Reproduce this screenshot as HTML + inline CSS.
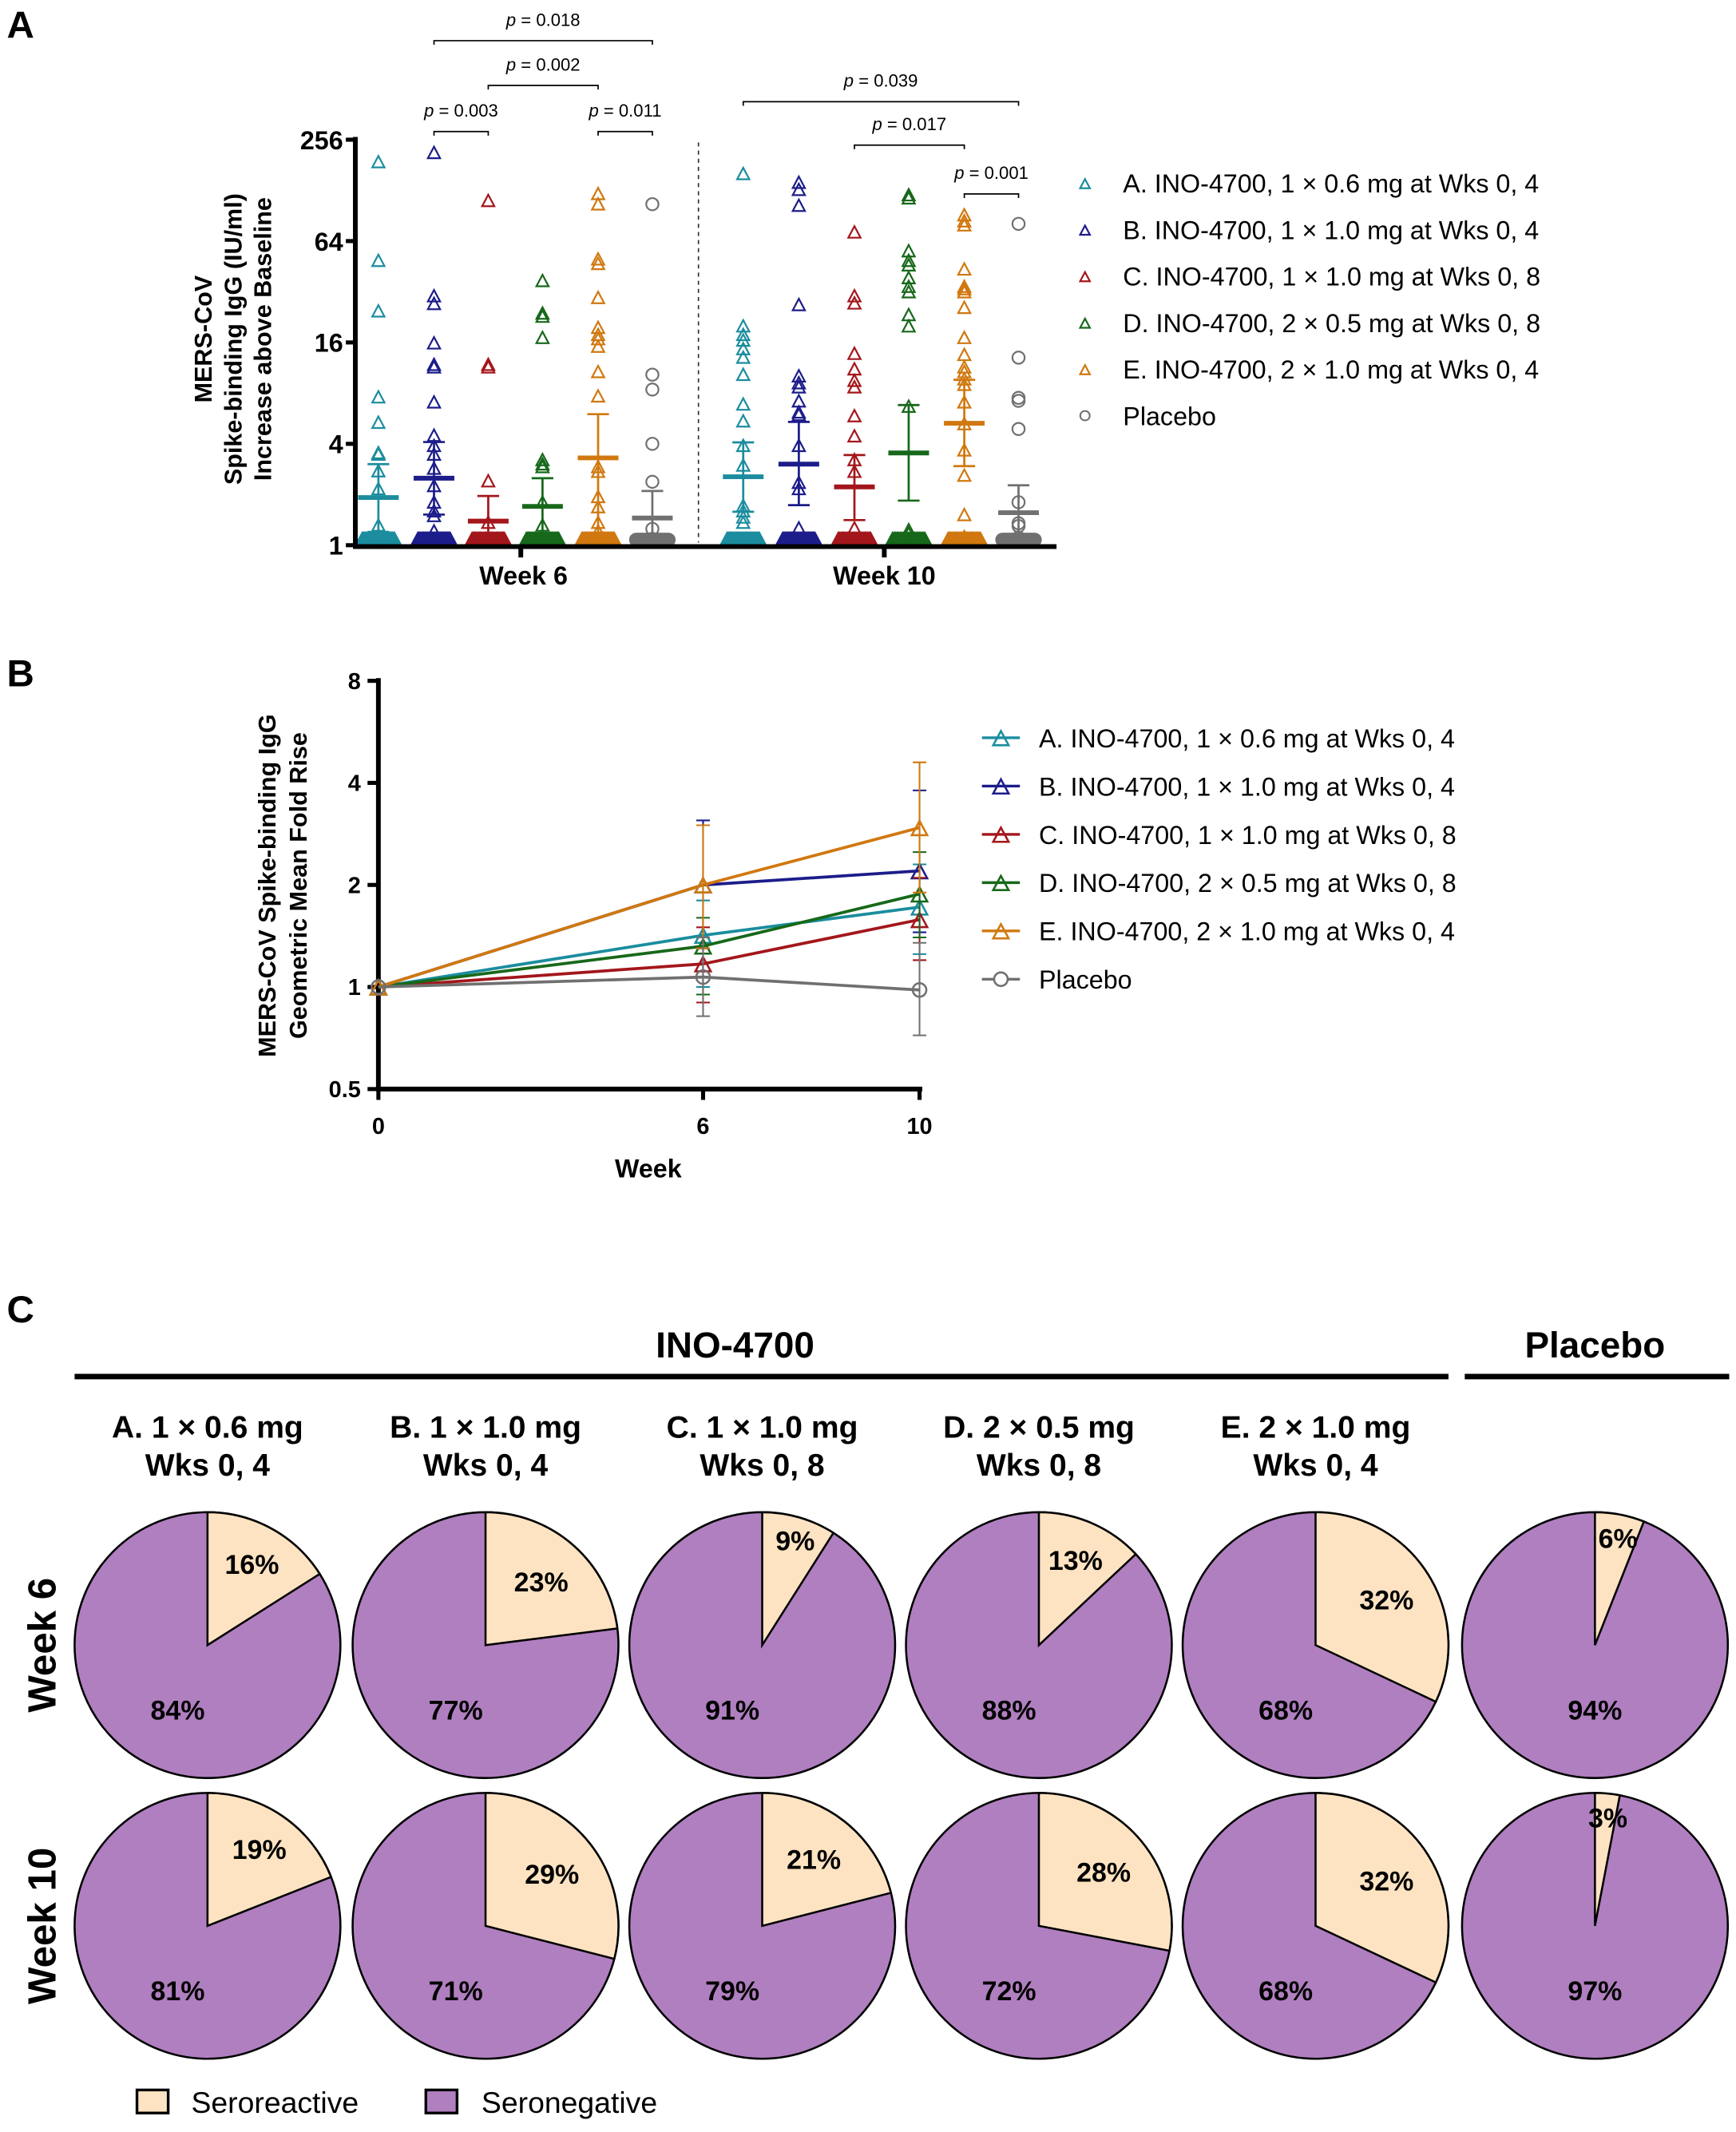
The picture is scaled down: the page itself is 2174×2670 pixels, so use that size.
<!DOCTYPE html>
<html><head><meta charset="utf-8"><style>
html,body{margin:0;padding:0;background:#fff;}
svg{display:block;font-family:"Liberation Sans",Arial,sans-serif;}
</style></head><body>
<svg id="fig" width="2174" height="2670" viewBox="0 0 1280 1572" preserveAspectRatio="none" xmlns="http://www.w3.org/2000/svg">
<g id="panelA"></g>
<g id="panelB"></g>
<g id="panelC"></g>
</svg>
<script>
// ---------- Panel A data ----------
const groupNames = ["A. INO-4700, 1 × 0.6 mg at Wks 0, 4","B. INO-4700, 1 × 1.0 mg at Wks 0, 4","C. INO-4700, 1 × 1.0 mg at Wks 0, 8","D. INO-4700, 2 × 0.5 mg at Wks 0, 8","E. INO-4700, 2 × 1.0 mg at Wks 0, 4","Placebo"];
const colors = ["#1b8d9e","#1c1c8a","#a3161b","#17681a","#d0780f","#707070"];
const w6A=[187,48.5,24.3,7.5,5.3,3.5,3.43,2.73,2.14,1.3];
const w6B=[212,29.9,26.9,15.7,11.7,11.3,7,4.44,3.86,3.43,2.83,2.23,1.78,1.58,1.48,1.2];
const w6C=[110,11.7,11.3,2.38,1.35];
const w6D=[36.8,23.6,22.6,16.9,3.18,3.0,2.89,1.78,1.3];
const w6E=[121,105,49.5,46.5,29.2,19.4,17.6,16.6,15,10.6,7.6,2.89,2.71,1.92,1.67,1.35,1.2];
const w6P=[106,10.3,8.4,4,2.38,1.25,1.09];
const w10A=[159,19.8,17.6,16.3,14.5,12.9,10.2,6.8,5.4,3.86,2.95,1.7,1.58,1.45,1.35];
const w10B=[141,128,103,26.5,10,9.1,8.6,7.1,6.1,5.9,3.86,2.33,2.14,1.25];
const w10C=[71.5,29.9,27.1,13.6,11,9.4,8.6,5.8,4.4,3.18,2.71,1.25];
const w10D=[119,114,55.3,48.5,45.6,38.3,34,31.6,23.1,19.8,6.6,1.22,1.16];
const w10E=[90.5,83.3,78.8,43.1,34,32.9,31.6,25.5,16.9,13.4,11.3,10.6,9.6,8.9,7,5.2,3.63,2.57,1.5,1.11];
const w10P=[81,13,7.5,7.2,4.9,1.8,1.35,1.3,1.11];
const onesW6=[40,40,36,36,40,30];
const onesW10=[40,40,36,30,36,30];
const meanW6=[1.92,2.5,1.39,1.7,3.3,1.45];
const hiW6=[3.03,4.1,1.96,2.5,6.0,2.1];
const loW6=[1.2,1.52,1,1.15,1,1];
const meanW10=[2.55,3.03,2.22,3.53,5.3,1.56];
const hiW10=[4.08,5.4,3.43,6.8,9.6,2.27];
const loW10=[1.58,1.73,1.41,1.84,2.95,1];
const yTicksA=[1,4,16,64,256];
const pLabels=["p = 0.018","p = 0.002","p = 0.003","p = 0.011","p = 0.039","p = 0.017","p = 0.001"];
const pWeek=[0,0,0,0,1,1,1];
const pFrom=[1,2,1,4,0,2,4];
const pTo=[5,4,2,5,5,4,5];
const pLevel=[30,63,97,97,75,107,143];

// ---------- Panel B data ----------
const weeksB=[0,6,10];
const gmB=[[1,1.42,1.72],[1,2.0,2.2],[1,1.17,1.58],[1,1.32,1.88],[1,2.0,2.95],[1,1.07,0.98]];
const loB=[[1,1.0,1.25],[1,1.3,1.45],[1,0.9,1.2],[1,0.95,1.4],[1,1.3,1.9],[1,0.82,0.72]];
const hiB=[[1,1.8,2.3],[1,3.1,3.8],[1,1.5,2.1],[1,1.6,2.5],[1,3.0,4.6],[1,1.4,1.35]];
const yTicksB=[0.5,1,2,4,8];
const yTickLabelsB=["0.5","1","2","4","8"];

// ---------- Panel C data ----------
const pieHeads1=["A. 1 × 0.6 mg","B. 1 × 1.0 mg","C. 1 × 1.0 mg","D. 2 × 0.5 mg","E. 2 × 1.0 mg"];
const pieHeads2=["Wks 0, 4","Wks 0, 4","Wks 0, 8","Wks 0, 8","Wks 0, 4"];
const react6=[16,23,9,13,32,6];
const react10=[19,29,21,28,32,3];
const neg6=[84,77,91,88,68,94];
const neg10=[81,71,79,72,68,97];

const NS="http://www.w3.org/2000/svg";
function mk(parent,tag,attrs,text){const e=document.createElementNS(NS,tag);for(const k in attrs)e.setAttribute(k,attrs[k]);if(text!==undefined)e.textContent=text;parent.appendChild(e);return e;}

// ===== Panel A =====
(function(){
const g=document.getElementById('panelA');
const yTop=103,yBot=402;
const yA=v=>yBot-(Math.log2(v)/8)*(yBot-yTop);
const xCenters=[[279,320,360,400,441,481],[548,589,630,670,711,751]];
const wk6=[w6A,w6B,w6C,w6D,w6E,w6P], wk10=[w10A,w10B,w10C,w10D,w10E,w10P];
let t=mk(g,'text',{x:5,y:28,'font-size':28,'font-weight':'bold'},'A');

const yt=mk(g,'text',{transform:'translate(172,250) rotate(-90)','font-size':18,'font-weight':'bold','text-anchor':'middle'});

["MERS-CoV","Spike-binding IgG (IU/ml)","Increase above Baseline"].forEach((s,i)=>mk(yt,'tspan',{x:0,dy:i?22:-16},s));
yTicksA.forEach(v=>{
 const l=mk(g,'line',{x1:255,x2:262,y1:yA(v),y2:yA(v),stroke:'#000','stroke-width':3});
 
 const tl=mk(g,'text',{x:253,y:yA(v)+7,'font-size':19,'font-weight':'bold','text-anchor':'end'},String(v));
 
});
const d=mk(g,'line',{x1:515,x2:515,y1:105,y2:400,stroke:'#333','stroke-width':1,'stroke-dasharray':'3,3'});

function tri(par,x,y,c,s){return mk(par,'polygon',{points:`${x},${y-s} ${x-s*0.9},${y+s*0.7} ${x+s*0.9},${y+s*0.7}`,fill:'none',stroke:c,'stroke-width':1.3});}
function plotGroup(w,gi,vals,ones,mean,hi,lo){
 const cx=xCenters[w][gi],c=colors[gi];
 const gg=mk(g,'g',{});
 
 for(let i=0;i<ones;i++){const ox=(i/(ones-1)-0.5)*24;
  const m=gi===5?mk(gg,'circle',{cx:cx+ox,cy:yA(1)-4,r:4.5,fill:'none',stroke:c,'stroke-width':1.3}):tri(gg,cx+ox,yA(1)-4,c,5);
  }
 vals.forEach(v=>{const m=gi===5?mk(gg,'circle',{cx:cx,cy:yA(v),r:4.5,fill:'none',stroke:c,'stroke-width':1.3}):tri(gg,cx,yA(v),c,5);
  });
 const e=mk(gg,'path',{d:`M${cx},${yA(lo)}V${yA(hi)}M${cx-8},${yA(hi)}H${cx+8}M${cx-8},${yA(lo)}H${cx+8}`,stroke:c,'stroke-width':1.6,fill:'none'});
 
 const mm=mk(gg,'line',{x1:cx-15,x2:cx+15,y1:yA(mean),y2:yA(mean),stroke:c,'stroke-width':3.5});
 
}
for(let i=0;i<6;i++){plotGroup(0,i,wk6[i],onesW6[i],meanW6[i],hiW6[i],loW6[i]);plotGroup(1,i,wk10[i],onesW10[i],meanW10[i],hiW10[i],loW10[i]);}
const ax=mk(g,'path',{d:`M262,101V403H779M384,403V411M652,403V411`,stroke:'#000','stroke-width':3.5,fill:'none'});

[["Week 6",386],["Week 10",652]].forEach(([s,x])=>{const e=mk(g,'text',{x:x,y:431,'font-size':19,'font-weight':'bold','text-anchor':'middle'},s);
 });
pLabels.forEach((s,i)=>{const x1=xCenters[pWeek[i]][pFrom[i]],x2=xCenters[pWeek[i]][pTo[i]],y=pLevel[i];
 const b=mk(g,'path',{d:`M${x1},${y+3}V${y}H${x2}V${y+3}`,stroke:'#000','stroke-width':1,fill:'none'});
 
 const tx=mk(g,'text',{x:(x1+x2)/2,y:y-11,'font-size':13,'text-anchor':'middle'});
 
 mk(tx,'tspan',{'font-style':'italic'},'p');mk(tx,'tspan',{},s.slice(1));});
groupNames.forEach((s,i)=>{const y=135+i*34.3;
 const m=i===5?mk(g,'circle',{cx:800,cy:y,r:3.5,fill:'none',stroke:colors[i],'stroke-width':1.2}):tri(g,800,y+1,colors[i],4);
 
 const e=mk(g,'text',{x:828,y:y+7,'font-size':19},s);});
})();

// ===== Panel B =====
(function(){
const g=document.getElementById('panelB');
const yTop=502,yBot=803;
const yB=v=>yBot-((Math.log2(v)+1)/4)*(yBot-yTop);
const xB=w=>279+w/10*(678-279);
let t=mk(g,'text',{x:5,y:506,'font-size':28,'font-weight':'bold'},'B');

const yt=mk(g,'text',{transform:'translate(208,653) rotate(-90)','font-size':18,'font-weight':'bold','text-anchor':'middle'});

["MERS-CoV Spike-binding IgG","Geometric Mean Fold Rise"].forEach((s,i)=>mk(yt,'tspan',{x:0,dy:i?23:-5},s));
yTicksB.forEach((v,i)=>{const l=mk(g,'line',{x1:271,x2:279,y1:yB(v),y2:yB(v),stroke:'#000','stroke-width':3});
 
 const e=mk(g,'text',{x:266,y:yB(v)+6,'font-size':17,'font-weight':'bold','text-anchor':'end'},yTickLabelsB[i]);
 });
weeksB.forEach(w=>{const l=mk(g,'line',{x1:xB(w),x2:xB(w),y1:803,y2:811,stroke:'#000','stroke-width':3});
 
 const e=mk(g,'text',{x:xB(w),y:836,'font-size':17,'font-weight':'bold','text-anchor':'middle'},String(w));
 });
const ax=mk(g,'path',{d:'M279,500V803H680',stroke:'#000','stroke-width':3.5,fill:'none'});

const xt=mk(g,'text',{x:478,y:868,'font-size':19,'font-weight':'bold','text-anchor':'middle'},'Week');

function tri(par,x,y,c,s){return mk(par,'polygon',{points:`${x},${y-s} ${x-s*0.95},${y+s*0.75} ${x+s*0.95},${y+s*0.75}`,fill:'none',stroke:c,'stroke-width':1.5});}
for(let s=0;s<6;s++){const c=colors[s];const gg=mk(g,'g',{});
 
 weeksB.forEach((w,i)=>{if(i===0)return;const x=xB(w);
  const e=mk(gg,'path',{d:`M${x},${yB(loB[s][i])}V${yB(hiB[s][i])}M${x-5},${yB(hiB[s][i])}H${x+5}M${x-5},${yB(loB[s][i])}H${x+5}`,stroke:c,'stroke-width':1.2,fill:'none'});
  });
 const ln=mk(gg,'polyline',{points:weeksB.map((w,i)=>xB(w)+','+yB(gmB[s][i])).join(' '),fill:'none',stroke:c,'stroke-width':2.2});
 
 weeksB.forEach((w,i)=>{const m=s===5?mk(gg,'circle',{cx:xB(w),cy:yB(gmB[s][i]),r:5,fill:'none',stroke:c,'stroke-width':1.5}):tri(gg,xB(w),yB(gmB[s][i])+1,c,6);
  });
}
groupNames.forEach((s,i)=>{const y=544+i*35.6;const c=colors[i];
 const l=mk(g,'line',{x1:724,x2:752,y1:y,y2:y,stroke:c,'stroke-width':2});
 
 const m=i===5?mk(g,'circle',{cx:738,cy:y,r:5,fill:'#fff',stroke:c,'stroke-width':1.5}):tri(g,738,y+1,c,6);
 
 const e=mk(g,'text',{x:766,y:y+7,'font-size':19},s);});
})();

// ===== Panel C =====
(function(){
const g=document.getElementById('panelC');
let t=mk(g,'text',{x:5,y:975,'font-size':28,'font-weight':'bold'},'C');

let e=mk(g,'text',{x:542,y:1001,'font-size':27,'font-weight':'bold','text-anchor':'middle'},'INO-4700');

e=mk(g,'text',{x:1176,y:1001,'font-size':27,'font-weight':'bold','text-anchor':'middle'},'Placebo');

e=mk(g,'line',{x1:55,x2:1068,y1:1015,y2:1015,stroke:'#000','stroke-width':4});
e=mk(g,'line',{x1:1080,x2:1275,y1:1015,y2:1015,stroke:'#000','stroke-width':4});
const cxs=[153,358,562,766,970,1176];
pieHeads1.forEach((s,i)=>{let a=mk(g,'text',{x:cxs[i],y:1060,'font-size':23,'font-weight':'bold','text-anchor':'middle'},s);
 
 a=mk(g,'text',{x:cxs[i],y:1088,'font-size':23,'font-weight':'bold','text-anchor':'middle'},pieHeads2[i]);
 });
[["Week 6",1213],["Week 10",1420]].forEach(([s,y])=>{const a=mk(g,'text',{transform:`translate(41,${y}) rotate(-90)`,'font-size':29,'font-weight':'bold','text-anchor':'middle'},s);
 });
const R=98;
function pie(cx,cy,p,n,row,i){const gg=mk(g,'g',{});
 
 const a=p/100*2*Math.PI;const ex=cx+R*Math.sin(a),ey=cy-R*Math.cos(a);
 let c=mk(gg,'circle',{cx:cx,cy:cy,r:R,fill:'#b07fc0',stroke:'#000','stroke-width':1.5});
 
 c=mk(gg,'path',{d:`M${cx},${cy}L${cx},${cy-R}A${R},${R} 0 ${a>Math.PI?1:0} 1 ${ex},${ey}Z`,fill:'#fde3c2',stroke:'#000','stroke-width':1.5});
 
 const ma=a/2, rr=p<12?80:(p<20?68:62);
 let l=mk(gg,'text',{x:cx+rr*Math.sin(ma)+(p<12?2:0),y:cy-rr*Math.cos(ma)+7,'font-size':20,'font-weight':'bold','text-anchor':'middle'},p+'%');
 
 l=mk(gg,'text',{x:cx+(i===5?0:-22),y:cy+55,'font-size':20,'font-weight':'bold','text-anchor':'middle'},n+'%');
 }
react6.forEach((p,i)=>pie(cxs[i],1213,p,neg6[i],'week6',i));
react10.forEach((p,i)=>pie(cxs[i],1420,p,neg10[i],'week10',i));
[["Seroreactive",101,'#fde3c2',141],["Seronegative",314,'#b07fc0',355]].forEach(([s,x,f,tx])=>{
 const r=mk(g,'rect',{x:x,y:1541,width:23,height:17,fill:f,stroke:'#000','stroke-width':2});
 
 const a=mk(g,'text',{x:tx,y:1558,'font-size':22},s);});
})();
</script>
</body></html>
